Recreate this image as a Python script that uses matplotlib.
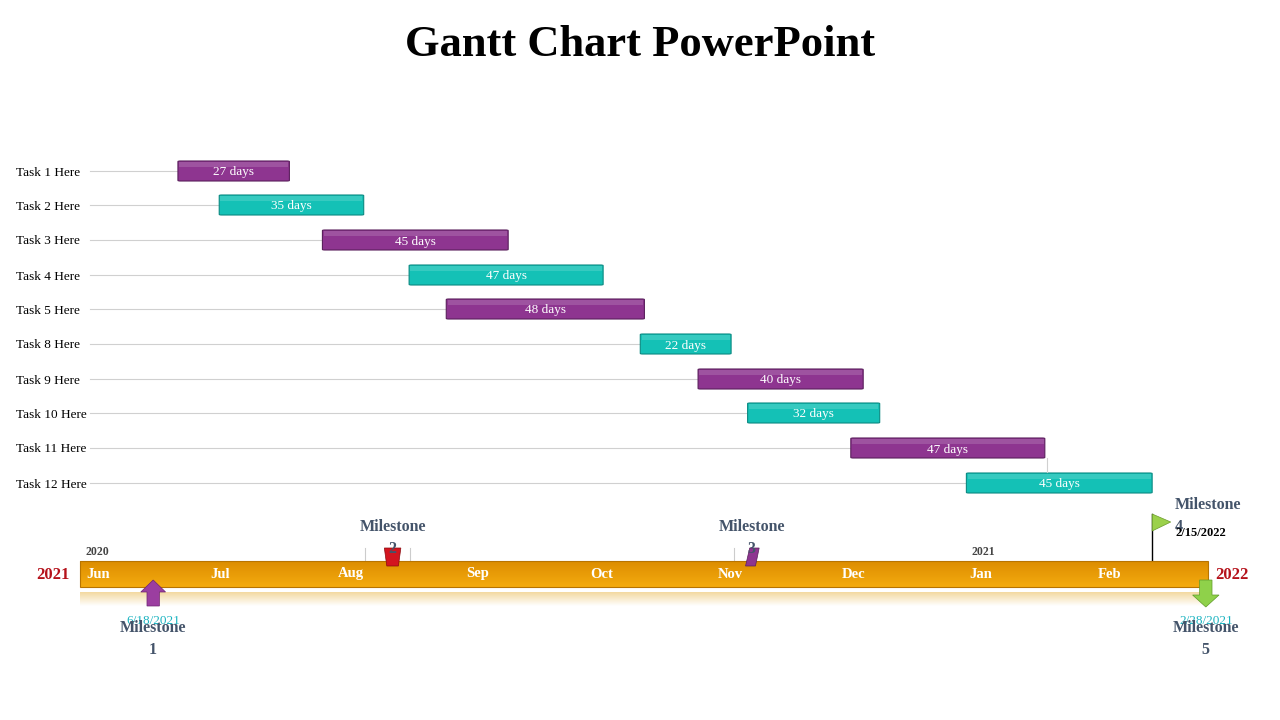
import matplotlib
matplotlib.use("Agg")
import matplotlib.pyplot as plt
import numpy as np
from matplotlib.patches import FancyBboxPatch, Polygon, Rectangle
from matplotlib.colors import LinearSegmentedColormap

tasks = ["Task 1 Here","Task 2 Here","Task 3 Here","Task 4 Here","Task 5 Here",
         "Task 8 Here","Task 9 Here","Task 10 Here","Task 11 Here","Task 12 Here"]
starts = [23, 33, 58, 79, 88, 135, 149, 161, 186, 214]   # days since Jun 1 2021
durations = [27, 35, 45, 47, 48, 22, 40, 32, 47, 45]
months = ["Jun","Jul","Aug","Sep","Oct","Nov","Dec","Jan","Feb"]
month_starts = [0, 30, 61, 92, 122, 153, 183, 214, 245]
milestones = ["Milestone 1","Milestone 2","Milestone 3","Milestone 4","Milestone 5"]
ms_days = [17, 75, 162, 259, 272]
ms_dates = ["6/18/2021", "", "", "2/15/2022", "2/28/2021"]

PX0, PXD = 83, 4.128
SERIF = "Liberation Serif"
fig = plt.figure(figsize=(12.8, 7.2), dpi=100)
ax = fig.add_axes([0, 0, 1, 1])
ax.set_xlim(-PX0 / PXD, (1280 - PX0) / PXD)
ax.set_ylim(720, 0)
ax.axis("off")
def xd(p): return (p - PX0) / PXD

ax.text(xd(640), 45, "Gantt Chart PowerPoint", ha="center", va="center",
        fontsize=32, fontweight="bold", family=SERIF)

row_y = [171, 205, 240, 275, 309, 344, 379, 413, 448, 483]
purple, teal = "#8e3590", "#14c1b6"
for i, (t, s, d) in enumerate(zip(tasks, starts, durations)):
    y = row_y[i]
    ax.text(xd(16), y, t, ha="left", va="center_baseline", fontsize=9.5, family=SERIF)
    ax.plot([xd(90), s], [y, y], color="#d0d0d0", lw=0.8, zorder=1)
    c = purple if i % 2 == 0 else teal
    ax.add_patch(FancyBboxPatch((s, y - 10), d, 20, boxstyle="round,pad=0,rounding_size=0.6",
                                fc=c, ec="#5a1f5c" if i % 2 == 0 else "#0b8a82", lw=0.8, zorder=2))
    ax.add_patch(Rectangle((s + 0.3, y - 9), d - 0.6, 5, fc="white", alpha=0.15, lw=0, zorder=3))
    ax.text(s + d / 2, y, f"{d} days", ha="center", va="center_baseline", color="white",
            fontsize=9.5, family=SERIF, zorder=4)
ax.plot([xd(1047)] * 2, [458, 472], color="#d0d0d0", lw=0.8)

grad = np.linspace(0, 1, 50).reshape(-1, 1)
cm = LinearSegmentedColormap.from_list("o", ["#dc8d00", "#f5ab0f"])
ax.imshow(grad, cmap=cm, aspect="auto", extent=[xd(80), xd(1208), 587, 561], zorder=2)
ax.add_patch(Rectangle((xd(80), 561), xd(1208) - xd(80), 26, fc="none", ec="#b87400", lw=0.8, zorder=3))
cm2 = LinearSegmentedColormap.from_list("f", ["#f3d9a0", "#ffffff"])
ax.imshow(grad, cmap=cm2, aspect="auto", extent=[xd(80), xd(1208), 606, 592], zorder=1)

for m, d in zip(months, month_starts):
    ax.text(d + 0.8, 574, m, ha="left", va="center", color="white", fontsize=10.5,
            fontweight="bold", family=SERIF, zorder=4)
ax.text(xd(86), 552, "2020", ha="left", va="center", color="#444", fontsize=8.5,
        fontweight="bold", family=SERIF)
ax.text(xd(971), 552, "2021", ha="left", va="center", color="#444", fontsize=8.5,
        fontweight="bold", family=SERIF)
ax.text(xd(70), 575, "2021", ha="right", va="center", color="#b5121b", fontsize=12,
        fontweight="bold", family=SERIF)
ax.text(xd(1215), 575, "2022", ha="left", va="center", color="#b5121b", fontsize=12,
        fontweight="bold", family=SERIF)

mc = "#44546a"
d = ms_days[0]
ax.add_patch(Polygon([(d - 3, 592), (d, 580), (d + 3, 592), (d + 1.5, 592), (d + 1.5, 606),
                      (d - 1.5, 606), (d - 1.5, 592)], fc="#9b3ea0", ec="#6d2470", lw=0.5, zorder=5))
ax.text(d, 621, ms_dates[0], ha="center", va="center", color="#1ab3c0", fontsize=9.5, family=SERIF)
ax.text(d, 639, "Milestone\n1", ha="center", va="center", color=mc, fontsize=11.5,
        fontweight="bold", family=SERIF, linespacing=1.5)
d = ms_days[1]
ax.plot([xd(365)] * 2, [548, 560], color="#ccc", lw=0.8)
ax.plot([xd(410)] * 2, [548, 560], color="#ccc", lw=0.8)
ax.add_patch(Polygon([(d - 2, 548), (d + 2, 548), (d + 1.4, 566), (d - 1.4, 566)],
                     fc="#d3151f", ec="#8a0b10", lw=0.5, zorder=5))
ax.text(d, 538, "Milestone\n2", ha="center", va="center", color=mc, fontsize=11.5,
        fontweight="bold", family=SERIF, linespacing=1.5, zorder=6)
d = ms_days[2]
ax.plot([xd(734)] * 2, [548, 560], color="#ccc", lw=0.8)
ax.add_patch(Polygon([(d - 1.5, 566), (d - 0.5, 548), (d + 1.8, 548), (d + 0.9, 566)],
                     fc="#8e3590", ec="#5a1f5c", lw=0.5, zorder=5))
ax.text(d, 538, "Milestone\n3", ha="center", va="center", color=mc, fontsize=11.5,
        fontweight="bold", family=SERIF, linespacing=1.5, zorder=6)
d = ms_days[3]
ax.plot([d, d], [514, 560], color="black", lw=1)
ax.add_patch(Polygon([(d, 514), (d + 4.5, 522), (d, 531)], fc="#9bd14b", ec="#6a9a2a", lw=0.5, zorder=5))
ax.text(xd(1175), 516, "Milestone\n4", ha="left", va="center", color=mc, fontsize=11.5,
        fontweight="bold", family=SERIF, linespacing=1.5)
ax.text(xd(1175), 533, ms_dates[3], ha="left", va="center", color="black", fontsize=9,
        fontweight="bold", family=SERIF)
d = ms_days[4]
ax.add_patch(Polygon([(d - 1.5, 580), (d + 1.5, 580), (d + 1.5, 595), (d + 3.2, 595), (d, 607),
                      (d - 3.2, 595), (d - 1.5, 595)], fc="#8fd14a", ec="#5f9a28", lw=0.5, zorder=5))
ax.text(d, 621, ms_dates[4], ha="center", va="center", color="#1ab3c0", fontsize=9.5, family=SERIF)
ax.text(d, 639, "Milestone\n5", ha="center", va="center", color=mc, fontsize=11.5,
        fontweight="bold", family=SERIF, linespacing=1.5)

fig.savefig("out.png", dpi=100)
